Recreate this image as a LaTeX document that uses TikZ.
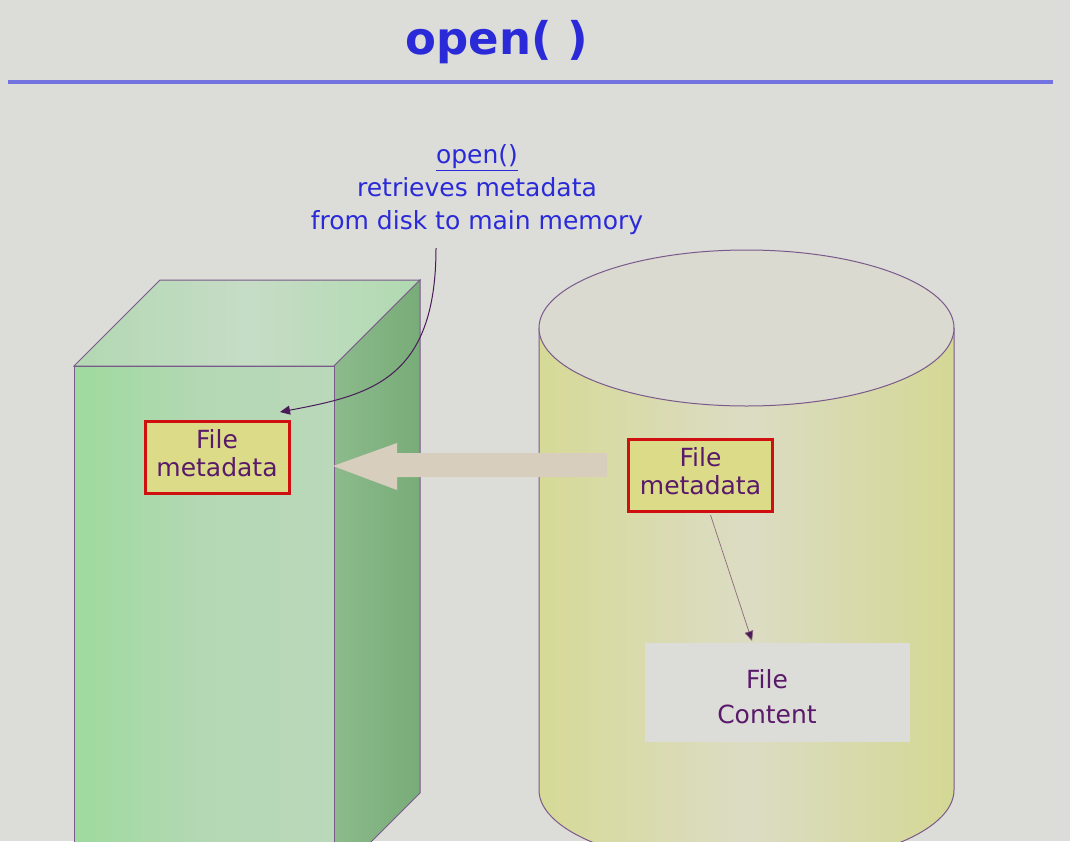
\documentclass[tikz,border=0pt]{standalone}
\usepackage{fontspec}
\setmainfont{DejaVu Sans}
\usetikzlibrary{arrows.meta}
\definecolor{bg}{HTML}{DCDCD8}
\definecolor{ttl}{HTML}{2A2AD8}
\definecolor{rule}{HTML}{7272E0}
\definecolor{edge}{HTML}{7A5A8A}
\definecolor{txt}{HTML}{5A1A6A}
\definecolor{metafill}{HTML}{DCDC88}
\definecolor{metaedge}{HTML}{D01010}
\definecolor{arrowc}{HTML}{4A1A5A}
\definecolor{bigarrow}{HTML}{D8CEBE}
\definecolor{thinline}{HTML}{8A6A7A}
\definecolor{topL}{HTML}{B2D8B2}
\definecolor{topM}{HTML}{C6DCC6}
\definecolor{topR}{HTML}{B0DAB0}
\definecolor{sideL}{HTML}{8CBA8C}
\definecolor{sideR}{HTML}{78AC78}
\definecolor{frontL}{HTML}{9EDA9E}
\definecolor{frontM}{HTML}{B4D8B4}
\definecolor{frontR}{HTML}{BAD8BA}
\definecolor{cylL}{HTML}{D6DA96}
\definecolor{cylM}{HTML}{DCDCC4}
\definecolor{cylR}{HTML}{D4D894}
\definecolor{cyltop}{HTML}{DADAD0}
\tikzset{
  metabox/.style={draw=metaedge, line width=3pt, fill=metafill, minimum width=144pt, minimum height=72pt, inner sep=0pt, align=center, text=txt, font=\fontsize{25}{28}\selectfont},
  contentbox/.style={fill=bg, minimum width=265pt, minimum height=99pt, inner sep=0pt},
  contenttext/.style={align=center, text=txt, font=\fontsize{25}{35}\selectfont},
  note/.style={align=center, text=ttl, font=\fontsize{25}{33}\selectfont},
  shape edge/.style={draw=edge, line width=1pt},
  link/.style={draw=arrowc, line width=1pt, -{Triangle[length=10pt,width=9pt]}}
}
\begin{document}
\begin{tikzpicture}[x=1pt,y=-1pt]
\useasboundingbox (0,0) rectangle (1070,841);
\fill[bg] (0,0) rectangle (1070,841);
\begin{scope}
\clip (0,0) rectangle (1070,841);
% title
\node[text=ttl, font=\fontsize{45}{50}\selectfont\bfseries] (title) at (497,42) {open( )};
\draw[rule, line width=4pt] (8,82) -- (1053,82);
% memory box
\path[shape edge, left color=topL, right color=topR, middle color=topM] (74,366) -- (160,280) -- (420,280) -- (334,366) -- cycle;
\path[shape edge, left color=sideL, right color=sideR] (334,366) -- (420,280) -- (420,793) -- (334,879) -- cycle;
\path[shape edge, left color=frontL, right color=frontR, middle color=frontM] (74,366) rectangle (334,900);
% disk cylinder
\path[shape edge, left color=cylL, right color=cylR, middle color=cylM] (539,328) -- (539,790) arc[start angle=180, end angle=360, x radius=207.5pt, y radius=78pt] -- (954,328) -- cycle;
\path[shape edge, fill=cyltop] (746.5,328) ellipse[x radius=207.5pt, y radius=78pt];
% big arrow
\fill[bigarrow] (333,466) -- (397,443) -- (397,453) -- (607,453) -- (607,477) -- (397,477) -- (397,490) -- cycle;
% nodes
\node[metabox] (lmeta) at (217,457) {File\\metadata\rule[-9pt]{0pt}{0pt}};
\node[metabox] (rmeta) at (700.5,475.5) {File\\metadata\rule[-9pt]{0pt}{0pt}};
\node[contentbox] (content) at (777.5,692.5) {};
\node[contenttext] (contentlabel) at (767,697) {File\\Content};
\node[note] (note) at (477,190) {\underline{open()}\\retrieves metadata\\from disk to main memory};
% connectors
\coordinate (bend) at (436,248);
\coordinate (ltip) at (280,412);
\draw[link] (bend) .. controls (436,380) and (370,395) .. (ltip);
\coordinate (ctip) at (752,641);
\draw[thinline, line width=0.7pt, -{Triangle[length=10pt,width=9pt,fill=arrowc]}] (rmeta.south) ++(10,2) -- (ctip);
\end{scope}
\end{tikzpicture}
\end{document}
